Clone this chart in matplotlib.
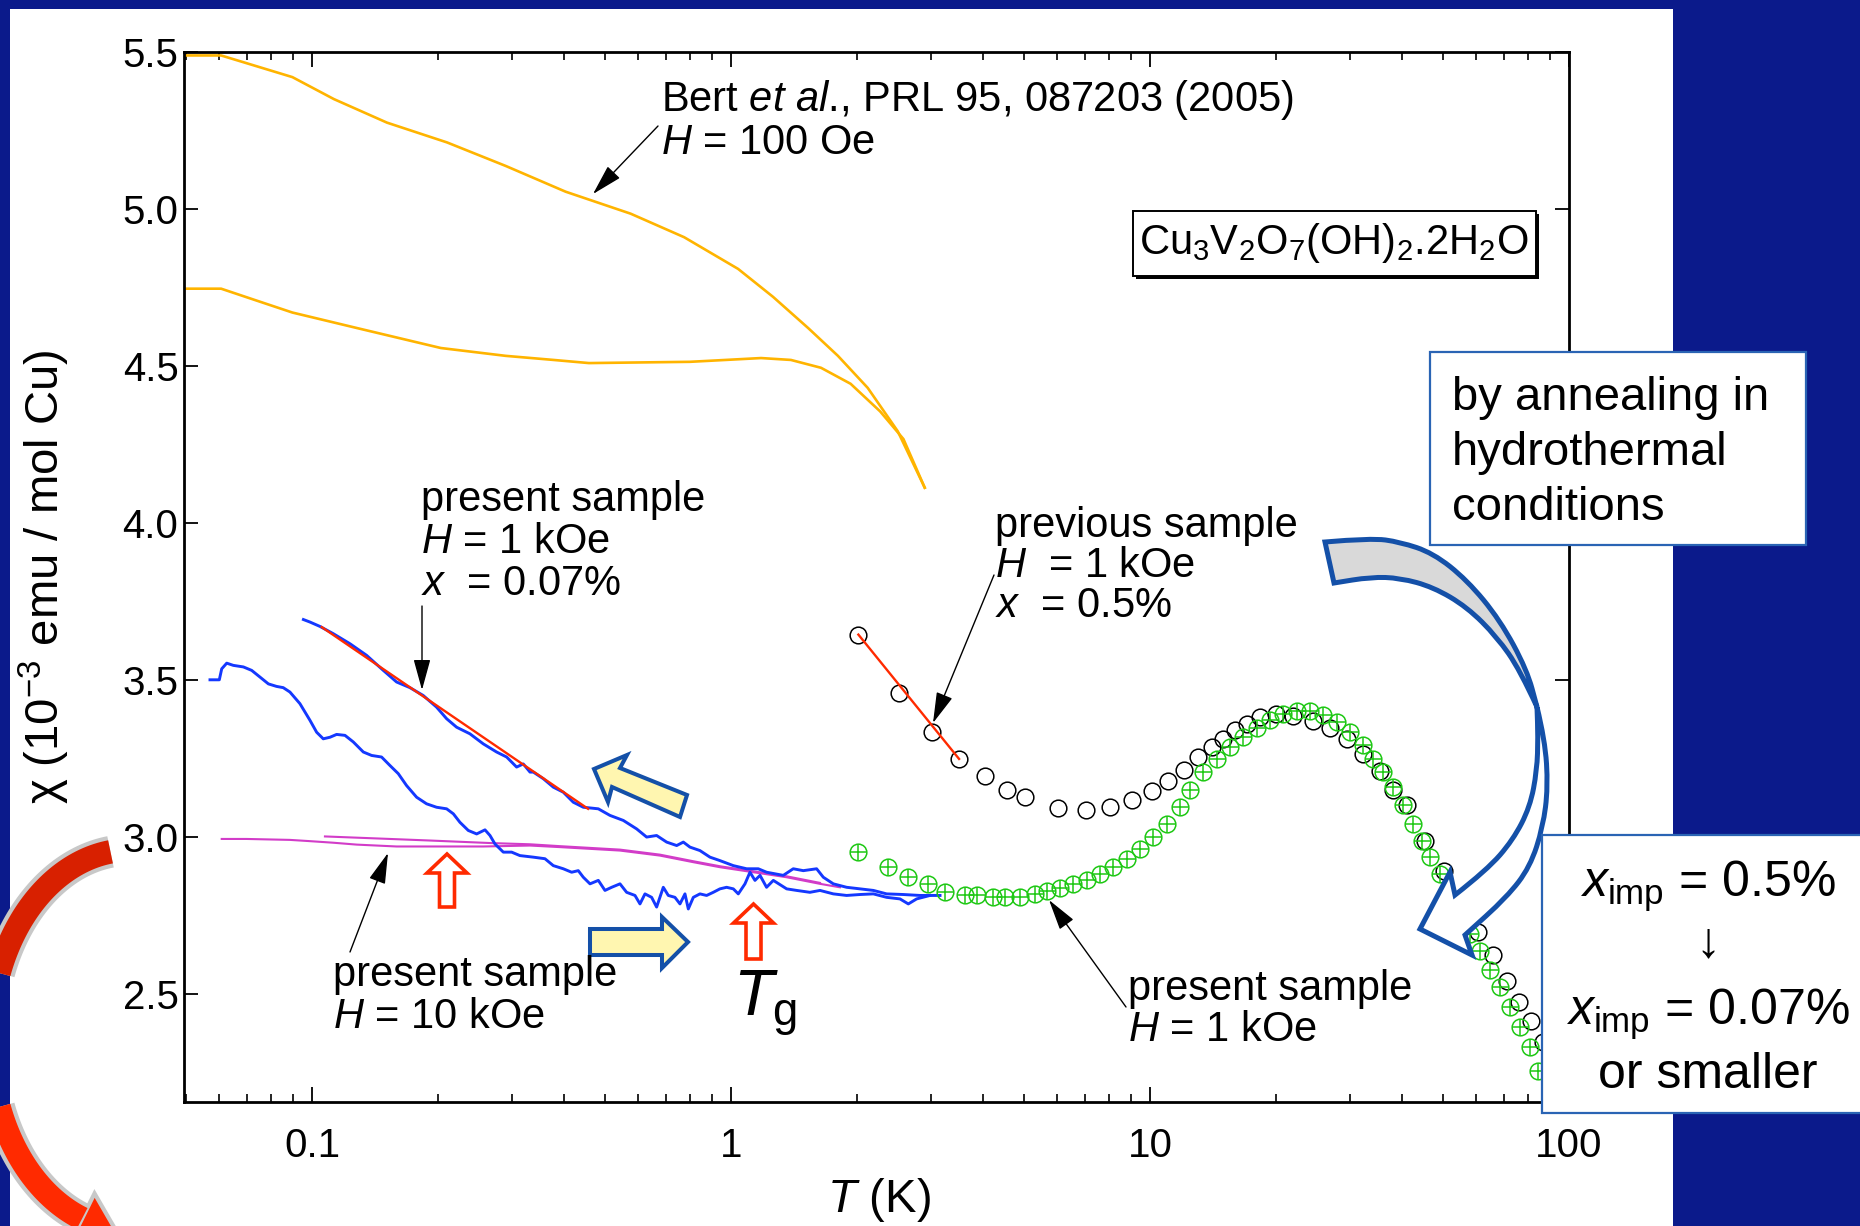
import numpy as np
import matplotlib.pyplot as plt
from matplotlib.patches import Rectangle, Polygon, FancyArrow, PathPatch
from matplotlib.path import Path
from matplotlib.ticker import FixedLocator, FixedFormatter, LogLocator, NullFormatter, FormatStrFormatter

plt.rcParams['font.family'] = ['Liberation Sans', 'DejaVu Sans']
plt.rcParams['mathtext.fontset'] = 'custom'
plt.rcParams['mathtext.rm'] = 'Liberation Sans'
plt.rcParams['mathtext.it'] = 'Liberation Sans:italic'
plt.rcParams['mathtext.bf'] = 'Liberation Sans:bold'

# ---- data: (T [K], chi [1e-3 emu/mol Cu]) ----
bert_fc = np.array([
    (0.0502, 5.489), (0.0607, 5.489), (0.0898, 5.42), (0.1128, 5.35), (0.151, 5.275),
    (0.210, 5.212), (0.290, 5.137), (0.403, 5.055), (0.576, 4.985), (0.773, 4.91),
    (1.04, 4.809), (1.26, 4.72), (1.53, 4.62), (1.80, 4.532), (2.12, 4.43),
    (2.50, 4.292), (2.90, 4.112)])
bert_zfc = np.array([
    (0.0502, 4.746), (0.0607, 4.746), (0.0738, 4.708), (0.0898, 4.67), (0.1286, 4.62),
    (0.203, 4.557), (0.290, 4.532), (0.377, 4.519), (0.458, 4.509), (0.798, 4.513),
    (0.971, 4.519), (1.18, 4.525), (1.39, 4.519), (1.64, 4.494), (1.93, 4.443),
    (2.27, 4.355), (2.58, 4.267), (2.90, 4.112)])

# present sample, H = 1 kOe, dilution fridge run (two sweeps)
h1k_up = np.array([
    (0.0954, 3.692), (0.0989, 3.684), (0.1045, 3.670), (0.1124, 3.647), (0.1232, 3.615),
    (0.1350, 3.578), (0.1480, 3.530), (0.1592, 3.493), (0.1713, 3.475), (0.1843, 3.450),
    (0.1983, 3.413), (0.2096, 3.376), (0.2214, 3.349), (0.2382, 3.328), (0.2563, 3.296),
    (0.2758, 3.270), (0.2915, 3.254), (0.3079, 3.222), (0.3194, 3.232), (0.3314, 3.206),
    (0.3375, 3.206), (0.3565, 3.185), (0.3767, 3.158), (0.3979, 3.142), (0.4204, 3.110),
    (0.4442, 3.094), (0.4824, 3.089), (0.5143, 3.068), (0.5534, 3.052), (0.5955, 3.025),
    (0.6291, 2.999), (0.6646, 3.004), (0.7022, 2.983), (0.7420, 2.972), (0.7696, 2.983),
    (0.7982, 2.967), (0.8432, 2.956), (0.8910, 2.935), (0.9412, 2.924), (1.013, 2.908),
    (1.090, 2.898), (1.162, 2.898), (1.216, 2.887), (1.333, 2.877), (1.408, 2.898),
    (1.488, 2.892), (1.601, 2.898), (1.661, 2.871), (1.755, 2.850), (1.888, 2.839),
    (2.032, 2.834), (2.187, 2.829), (2.352, 2.818), (2.578, 2.816), (2.826, 2.813),
    (3.154, 2.813)])
h1k_down = np.array([
    (0.0571, 3.500), (0.0601, 3.500), (0.0609, 3.535), (0.0626, 3.553), (0.0649, 3.546),
    (0.0686, 3.541), (0.0718, 3.530), (0.0751, 3.509), (0.0787, 3.487), (0.0823, 3.479),
    (0.0854, 3.475), (0.0886, 3.461), (0.0936, 3.424), (0.0989, 3.371), (0.1026, 3.333),
    (0.1064, 3.312), (0.1104, 3.317), (0.1145, 3.326), (0.1199, 3.323), (0.1255, 3.302),
    (0.1326, 3.270), (0.1388, 3.259), (0.1466, 3.254), (0.1535, 3.227), (0.1607, 3.201),
    (0.1682, 3.163), (0.1777, 3.126), (0.1877, 3.105), (0.1983, 3.094), (0.2096, 3.089),
    (0.2175, 3.073), (0.2255, 3.046), (0.2361, 3.020), (0.2472, 3.009), (0.2588, 3.022),
    (0.2660, 3.004), (0.2734, 2.977), (0.2862, 2.951), (0.2996, 2.951), (0.3135, 2.940),
    (0.3375, 2.935), (0.3598, 2.930), (0.3767, 2.908), (0.3979, 2.898), (0.4166, 2.887),
    (0.4321, 2.892), (0.4442, 2.871), (0.4608, 2.850), (0.4824, 2.861), (0.5004, 2.829),
    (0.5191, 2.839), (0.5434, 2.850), (0.5636, 2.823), (0.5901, 2.813), (0.6065, 2.786),
    (0.6234, 2.818), (0.6466, 2.807), (0.6646, 2.776), (0.6894, 2.839), (0.7086, 2.813),
    (0.7350, 2.807), (0.7556, 2.786), (0.7766, 2.818), (0.7910, 2.770), (0.8131, 2.807),
    (0.8432, 2.818), (0.8747, 2.813), (0.9073, 2.823), (0.9412, 2.834), (0.9763, 2.839),
    (1.013, 2.834), (1.041, 2.818), (1.080, 2.850), (1.110, 2.887), (1.141, 2.861),
    (1.173, 2.877), (1.216, 2.839), (1.262, 2.861), (1.358, 2.834), (1.435, 2.829),
    (1.543, 2.823), (1.631, 2.829), (1.755, 2.818), (1.888, 2.813), (2.032, 2.816),
    (2.187, 2.818), (2.352, 2.807), (2.531, 2.802), (2.650, 2.786), (2.774, 2.802),
    (2.985, 2.813)])

# present sample, H = 10 kOe
h10k_a = np.array([
    (0.0609, 2.993), (0.0698, 2.993), (0.0886, 2.990), (0.0989, 2.986), (0.1124, 2.981),
    (0.1278, 2.975), (0.1592, 2.969), (0.2563, 2.969), (0.3314, 2.972), (0.3909, 2.967),
    (0.5434, 2.956), (0.6768, 2.940), (0.8131, 2.919), (0.9412, 2.903), (1.131, 2.887),
    (1.358, 2.871), (1.631, 2.850), (1.820, 2.839)])
h10k_b = np.array([
    (0.1074, 3.001), (0.1535, 2.993), (0.1912, 2.988), (0.2660, 2.980), (0.3314, 2.976),
    (0.3909, 2.970), (0.5434, 2.959), (0.6768, 2.943), (0.8131, 2.922), (0.9412, 2.906),
    (1.131, 2.890), (1.358, 2.874), (1.631, 2.853)])

# fits of the low-T upturn
fit_low_T = [0.1055, 0.456]
fit_low_chi = [3.668, 3.089]
fit_prev_T = [2.014, 3.502]
fit_prev_chi = [3.644, 3.248]

# previous sample, x = 0.5 %, H = 1 kOe
prev = np.array([
    (2.014, 3.644), (2.518, 3.458), (3.013, 3.333), (3.502, 3.248), (4.039, 3.192),
    (4.549, 3.150), (5.031, 3.126), (6.042, 3.092), (7.035, 3.084), (8.027, 3.096),
    (9.044, 3.118), (10.09, 3.145), (11.06, 3.177), (12.05, 3.213), (13.05, 3.254),
    (14.04, 3.286), (14.96, 3.312), (15.95, 3.339), (17.01, 3.360), (18.30, 3.381),
    (20.0, 3.390), (22.0, 3.385), (24.5, 3.370), (26.9, 3.345), (29.5, 3.310),
    (32.3, 3.265), (35.4, 3.210), (38.1, 3.150), (41.0, 3.100), (45.3, 2.988),
    (50.3, 2.891), (60.8, 2.695), (65.8, 2.622), (71.2, 2.541), (76.0, 2.474),
    (81.0, 2.412), (86.5, 2.345)])

# present sample, x = 0.07 %, H = 1 kOe
pres = np.array([
    (2.014, 2.951), (2.375, 2.903), (2.651, 2.871), (2.958, 2.848), (3.242, 2.823),
    (3.618, 2.816), (3.858, 2.813), (4.228, 2.809), (4.508, 2.809), (4.894, 2.809),
    (5.317, 2.818), (5.667, 2.826), (6.098, 2.837), (6.561, 2.848), (7.063, 2.863),
    (7.598, 2.882), (8.178, 2.903), (8.799, 2.930), (9.465, 2.962), (10.18, 2.999),
    (10.96, 3.041), (11.79, 3.095), (12.46, 3.150), (13.41, 3.206), (14.43, 3.248),
    (15.52, 3.286), (16.70, 3.317), (17.97, 3.347), (19.34, 3.371), (20.81, 3.390),
    (22.39, 3.402), (24.09, 3.400), (25.93, 3.387), (27.90, 3.365), (30.02, 3.333),
    (32.29, 3.291), (34.12, 3.248), (36.05, 3.206), (38.08, 3.158), (40.24, 3.100),
    (42.53, 3.041), (44.51, 2.988), (46.60, 2.935), (49.22, 2.882), (58.0, 2.690),
    (61.3, 2.637), (64.8, 2.574), (68.4, 2.520), (72.3, 2.457), (76.4, 2.393),
    (80.7, 2.329), (84.5, 2.255)])

x_ticks = [0.1, 1, 10, 100]
x_ticklabels = ['0.1', '1', '10', '100']
y_ticks = [2.5, 3.0, 3.5, 4.0, 4.5, 5.0, 5.5]

W, H = 1860, 1226
NAVY = '#0b1a8b'
EDGE_BLUE = '#1450a8'

fig = plt.figure(figsize=(W / 100, H / 100), dpi=100, facecolor=NAVY)

# white slide panel behind the plot (pixel coordinates, y downwards)
bg = fig.add_axes([0, 0, 1, 1], zorder=-1)
bg.set_xlim(0, W)
bg.set_ylim(H, 0)
bg.axis('off')
bg.add_patch(Rectangle((10, 9), 1663, H, fc='white', ec='none'))

ax = fig.add_axes([184 / W, 1 - 1102 / H, (1569 - 184) / W, (1102 - 52) / H], zorder=0)
ax.set_xscale('log')

ax.plot(bert_fc[:, 0], bert_fc[:, 1], color='#ffb400', lw=1.9)
ax.plot(bert_zfc[:, 0], bert_zfc[:, 1], color='#ffb400', lw=1.9)
ax.plot(h10k_a[:, 0], h10k_a[:, 1], color='#d23cc8', lw=1.5)
ax.plot(h10k_b[:, 0], h10k_b[:, 1], color='#d23cc8', lw=1.5)
ax.plot(h1k_down[:, 0], h1k_down[:, 1], color='#1438ff', lw=2.1)
ax.plot(h1k_up[:, 0], h1k_up[:, 1], color='#1438ff', lw=2.1)
ax.plot(fit_low_T, fit_low_chi, color='#ff2a00', lw=1.7)
ax.plot(prev[:, 0], prev[:, 1], 'o', mfc='none', mec='black', ms=12, mew=1.1)
ax.plot(fit_prev_T, fit_prev_chi, color='#ff2a00', lw=1.7)
ax.plot(pres[:, 0], pres[:, 1], 'o', mfc='none', mec='#1ec814', ms=12, mew=1.1)
ax.plot(pres[:, 0], pres[:, 1], '+', color='#1ec814', ms=12, mew=1.1)

ax.set_xlim(0.0495, 100)
ax.set_ylim(2.155, 5.5)
ax.xaxis.set_major_locator(FixedLocator(x_ticks))
ax.xaxis.set_major_formatter(FixedFormatter(x_ticklabels))
ax.xaxis.set_minor_locator(LogLocator(base=10, subs=np.arange(2, 10)))
ax.xaxis.set_minor_formatter(NullFormatter())
ax.set_yticks(y_ticks)
ax.yaxis.set_major_formatter(FormatStrFormatter('%.1f'))
ax.tick_params(which='both', direction='in', top=True, right=True, labelsize=29)
ax.tick_params(axis='x', which='major', length=11, width=1.3, pad=18)
ax.tick_params(axis='x', which='minor', length=5.5, width=1.2)
ax.tick_params(axis='y', which='major', length=10, width=1.3, pad=4)
for sp in ax.spines.values():
    sp.set_linewidth(2.0)

ax.set_xlabel(r'$T$ (K)', fontsize=34, va='center')
ax.xaxis.set_label_coords(0.502, -0.0933)
ax.set_ylabel('χ (10$^{-3}$ emu / mol Cu)', fontsize=34, va='center')
ax.yaxis.set_label_coords(-0.101, 0.5)

# ---- annotation layer in pixel coordinates ----
ov = fig.add_axes([0, 0, 1, 1], zorder=10)
ov.set_xlim(0, W)
ov.set_ylim(H, 0)
ov.axis('off')


def note(x, y, lines, dy, size=30):
    for i, s in enumerate(lines):
        ov.text(x, y + i * dy, s, fontsize=size, ha='left', va='center')


def pointer(tail, head):
    ov.annotate('', xy=head, xytext=tail,
                arrowprops=dict(arrowstyle='-|>,head_length=0.8,head_width=0.22',
                                color='black', lw=1.0, mutation_scale=24,
                                shrinkA=0, shrinkB=0))


note(661, 100, [r'Bert $et\ al$., PRL 95, 087203 (2005)', r'$H$ = 100 Oe'], 43)
pointer((658, 126), (593, 194))
note(421, 500, ['present sample', r'$H$ = 1 kOe', r'$x$  = 0.07%'], 42)
pointer((422, 606), (422, 690))
note(995, 526, ['previous sample', r'$H$  = 1 kOe', r'$x$  = 0.5%'], 40)
pointer((994, 575), (933, 723))
note(333, 975, ['present sample', r'$H$ = 10 kOe'], 42)
pointer((350, 952), (388, 853))
note(1128, 989, ['present sample', r'$H$ = 1 kOe'], 41)
pointer((1126, 1007), (1049, 900))

# T_g label
ov.text(733, 1017, r'$T_{\rm g}$', fontsize=47, ha='left', va='baseline')

# compound name with drop shadow
ov.add_patch(Rectangle((1136, 214), 403, 65, fc='black', ec='none'))
ov.add_patch(Rectangle((1133, 211), 403, 65, fc='white', ec='black', lw=1.4))
ov.text(1334, 243, r'Cu$_3$V$_2$O$_7$(OH)$_2$.2H$_2$O', fontsize=30, ha='center', va='center')

# hollow red arrows marking T_g
for x0, y0, length in [(447, 907, 53), (753.5, 959, 55)]:
    ov.add_patch(FancyArrow(x0, y0, 0, -length, width=15, head_width=40, head_length=19,
                            length_includes_head=True, fc='white', ec='#ff2a00', lw=2.6))

# yellow sweep-direction arrows
ov.add_patch(Polygon([(594, 769), (627, 755), (620, 768), (687, 795), (680, 817),
                      (612, 787), (608, 802)], closed=True,
                     fc='#fff6b0', ec=EDGE_BLUE, lw=2.9, joinstyle='miter'))
ov.add_patch(Polygon([(590, 929), (662, 929), (662, 917), (688, 942), (662, 968),
                      (662, 955), (590, 955)], closed=True,
                     fc='#fff6b0', ec=EDGE_BLUE, lw=2.9, joinstyle='miter'))


def smooth(points):
    verts = [points[0]]
    codes = [Path.MOVETO]
    for i in range(1, len(points) - 1):
        mid = ((points[i][0] + points[i + 1][0]) / 2, (points[i][1] + points[i + 1][1]) / 2)
        verts += [points[i], mid]
        codes += [Path.CURVE3, Path.CURVE3]
    verts.append(points[-1])
    codes.append(Path.LINETO)
    return verts, codes


def ribbon(*parts):
    verts, codes = [], []
    for pts, curved in parts:
        if curved:
            v, c = smooth(pts)
        else:
            v, c = list(pts), [Path.LINETO] * len(pts)
        c[0] = Path.LINETO
        verts += v
        codes += c
    codes[0] = Path.MOVETO
    verts.append(verts[0])
    codes.append(Path.CLOSEPOLY)
    return Path(verts, codes)


# big curved arrow: grey back face, white front face with head
outer_top = [(1325, 542), (1371, 538), (1400, 542), (1433, 553), (1467, 580),
             (1500, 620), (1527, 670), (1537, 707)]
inner_top = [(1334, 583), (1371, 577), (1400, 578), (1433, 587), (1467, 607),
             (1497, 637), (1520, 670), (1537, 707)]
right_low = [(1537, 707), (1545, 740), (1548, 787), (1543, 827), (1530, 867),
             (1507, 897), (1465, 935)]
head = [(1472, 955), (1420, 929), (1450, 872)]
left_low = [(1455, 895), (1487, 870), (1513, 840), (1530, 807), (1537, 770),
            (1538, 737), (1537, 707)]
ov.add_patch(PathPatch(ribbon((outer_top, True), (inner_top[::-1], True)),
                       fc='#d9d9d9', ec=EDGE_BLUE, lw=3.6, joinstyle='miter'))
ov.add_patch(PathPatch(ribbon((right_low, True), (head, False), (left_low, True)),
                       fc='white', ec=EDGE_BLUE, lw=3.6, joinstyle='miter'))

# text boxes on the slide
ov.add_patch(Rectangle((1430, 352), 376, 193, fc='white', ec='#2a64b4', lw=1.6))
for i, s in enumerate(['by annealing in', 'hydrothermal', 'conditions']):
    ov.text(1452, 398 + i * 55, s, fontsize=34, ha='left', va='center')

ov.add_patch(Rectangle((1542, 835), 340, 278, fc='white', ec='#2a64b4', lw=1.6))
ov.text(1708, 886, r'$x_{\rm imp}$ = 0.5%', fontsize=36, ha='center', va='center')
ov.text(1708, 943, '↓', fontsize=36, ha='center', va='center')
ov.text(1708, 1014, r'$x_{\rm imp}$ = 0.07%', fontsize=36, ha='center', va='center')
ov.text(1708, 1075, 'or smaller', fontsize=36, ha='center', va='center')

# red curved arrow entering from the left edge
th_top = np.radians(np.linspace(262, 180, 60))
th_bot = np.radians(np.linspace(180, 110, 50))
cx, cy, rx, ry = 130, 1040, 140, 190
th_all = np.concatenate([th_top, th_bot])
ov.plot(cx + rx * np.cos(th_all), cy + ry * np.sin(th_all), color='#c8c8c8',
        lw=23, solid_capstyle='butt')
ov.plot(cx + rx * np.cos(th_top), cy + ry * np.sin(th_top), color='#d82000',
        lw=17, solid_capstyle='butt')
ov.plot(cx + rx * np.cos(th_bot), cy + ry * np.sin(th_bot), color='#ff2a00',
        lw=17, solid_capstyle='butt')
t_end = np.radians(110)
base = np.array([cx + rx * np.cos(t_end), cy + ry * np.sin(t_end)])
tang = np.array([rx * np.sin(t_end), -ry * np.cos(t_end)])
tang /= np.linalg.norm(tang)
norm = np.array([tang[1], -tang[0]])
ov.add_patch(Polygon([base + 28 * norm, base + 42 * tang, base - 28 * norm], closed=True,
                     fc='#ff2a00', ec='#c8c8c8', lw=3))

fig.savefig('out.png', dpi=100, facecolor=NAVY)
